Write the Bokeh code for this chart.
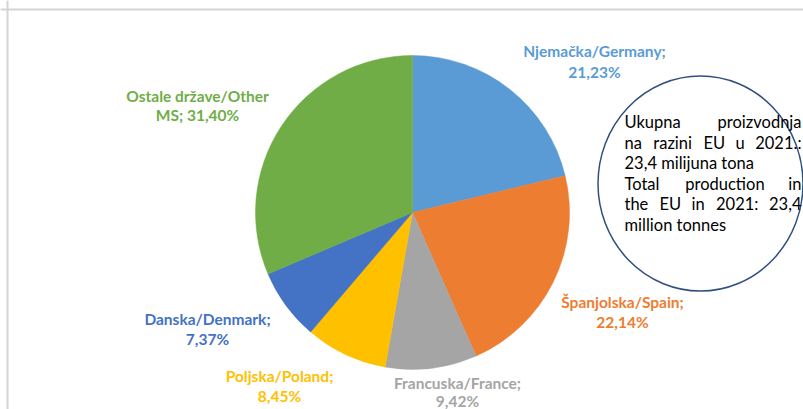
import math
from bokeh.plotting import figure
from bokeh.models import Range1d, Span
from bokeh.core.properties import value
from bokeh.embed import file_html
from bokeh.resources import INLINE

# ---- data ----
countries = ["Njemačka/Germany", "Španjolska/Spain", "Francuska/France",
             "Poljska/Poland", "Danska/Denmark", "Ostale države/Other MS"]
shares = [21.23, 22.14, 9.42, 8.45, 7.37, 31.40]
label_lines = [["Njemačka/Germany;", "21,23%"],
               ["Španjolska/Spain;", "22,14%"],
               ["Francuska/France;", "9,42%"],
               ["Poljska/Poland;", "8,45%"],
               ["Danska/Denmark;", "7,37%"],
               ["Ostale države/Other", "MS; 31,40%"]]
note_lines = ["Ukupna proizvodnja", "na razini EU u 2021.:", "23,4 milijuna tona",
              "Total production in", "the EU in 2021: 23,4", "million tonnes"]
note_justify = [True, True, False, True, True, False]

# ---- styles / layout ----
colors = ["#5B9BD5", "#ED7D31", "#A5A5A5", "#FFC000", "#4472C4", "#70AD47"]
label_pos = [(594, 50, 71), (622, 301, 321), (457, 382, 400),
             (279, 375, 395), (207, 318, 338), (197, 95, 114)]  # window px
W, H = 803, 409
FONT = "Lato"
NOTE_FS = 16.5

# approximate Lato advance widths (em) for justification
CHW = {c: 0.56 for c in "bdhnopqu"}
CHW.update({"a": 0.51, "c": 0.46, "e": 0.52, "f": 0.32, "g": 0.50, "i": 0.24,
            "j": 0.24, "k": 0.51, "l": 0.24, "m": 0.84, "r": 0.36, "s": 0.43,
            "t": 0.36, "v": 0.50, "w": 0.76, "x": 0.50, "y": 0.50, "z": 0.46,
            ",": 0.22, ".": 0.22, ":": 0.22, "U": 0.70, "E": 0.56, "T": 0.55})
for d in "0123456789":
    CHW[d] = 0.58


def X(px):
    return px


def Y(py):
    return H - py


p = figure(width=W, height=H, output_backend="svg", toolbar_location=None,
           x_range=Range1d(0, W), y_range=Range1d(0, H), min_border=0)
p.axis.visible = False
p.grid.visible = False
p.outline_line_color = None
p.background_fill_color = "white"
p.border_fill_color = "white"

# frame lines (left, top)
p.add_layout(Span(location=X(7), dimension="height", line_color="#d4d4d4", line_width=2))
p.add_layout(Span(location=Y(9), dimension="width", line_color="#d4d4d4", line_width=2))

# pie
cx, cy, r = X(412), Y(212), 157
total = sum(shares)
cum = 0.0
starts, ends = [], []
for s in shares:
    a0 = math.pi / 2 - 2 * math.pi * cum / total
    cum += s
    a1 = math.pi / 2 - 2 * math.pi * cum / total
    starts.append(a0)
    ends.append(a1)
p.wedge(x=[cx] * len(shares), y=[cy] * len(shares), radius=r,
        start_angle=starts, end_angle=ends, direction="clock",
        fill_color=colors, line_color=colors, line_width=0.5)

# labels
for lines, col, (lx, ly1, ly2) in zip(label_lines, colors, label_pos):
    for txt, ly in zip(lines, (ly1, ly2)):
        p.text(x=[X(lx)], y=[Y(ly)], text=[txt], text_color=col,
               text_font=value(FONT), text_font_style="bold",
               text_font_size="15.5px", text_align="center",
               text_baseline="middle")

# note ellipse
p.ellipse(x=[X(700)], y=[Y(183)], width=205, height=215,
          fill_color=None, line_color="#2F4F7F", line_width=1.5)

# note text (justified)
x0, x1 = 624, 801
ys = [121, 142, 162, 183, 203, 224]


def wwidth(w):
    return sum(CHW.get(c, 0.52) for c in w) * NOTE_FS


def put(xp, yp, txt, align):
    p.text(x=[X(xp)], y=[Y(yp)], text=[txt], text_color="black",
           text_font=value(FONT), text_font_size=f"{NOTE_FS}px",
           text_align=align, text_baseline="middle")


for line, just, ly in zip(note_lines, note_justify, ys):
    words = line.split(" ")
    if just and len(words) > 1:
        widths = [wwidth(w) for w in words]
        gap = ((x1 - x0) - sum(widths)) / (len(words) - 1)
        cur = x0
        for i, (w, wd) in enumerate(zip(words, widths)):
            if i == len(words) - 1:
                put(x1, ly, w, "right")
            else:
                put(cur, ly, w, "left")
            cur += wd + gap
    else:
        put(x0, ly, line, "left")

open("out.html", "w").write(file_html(p, INLINE))
